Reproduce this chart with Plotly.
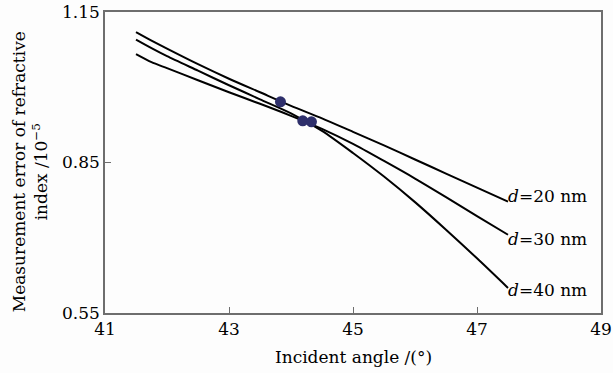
import plotly.graph_objects as go

# Incident angle (degrees)
angles = [41.5, 41.75, 42.0, 42.5, 43.0, 43.5, 44.0, 44.5, 45.0, 45.5, 46.0, 46.5, 47.0, 47.5]

# Measurement error of refractive index (x 1e-5)
err_d20 = [1.110, 1.093, 1.077, 1.046, 1.017, 0.990, 0.963, 0.938, 0.911, 0.884, 0.856, 0.828, 0.800, 0.772]
err_d30 = [1.066, 1.050, 1.038, 1.014, 0.990, 0.967, 0.943, 0.917, 0.887, 0.853, 0.818, 0.781, 0.743, 0.706]
err_d40 = [1.095, 1.078, 1.062, 1.033, 1.004, 0.976, 0.948, 0.913, 0.869, 0.822, 0.771, 0.716, 0.659, 0.600]

series_names = ["d=20 nm", "d=30 nm", "d=40 nm"]
series_labels = ["<i>d</i>=20 nm", "<i>d</i>=30 nm", "<i>d</i>=40 nm"]

# Marked points (optimal angles)
dot_x = [43.83, 44.19, 44.33]
dot_y = [0.971, 0.933, 0.931]

x_ticks = [41, 43, 45, 47, 49]
y_ticks = [0.55, 0.85, 1.15]

FONT = "DejaVu Serif"

fig = go.Figure()
for name, ys in zip(series_names, [err_d20, err_d30, err_d40]):
    fig.add_trace(go.Scatter(x=angles, y=ys, mode="lines", name=name,
                             line=dict(color="black", width=2, shape="spline", smoothing=0.7),
                             showlegend=False, hoverinfo="skip"))

fig.add_trace(go.Scatter(x=dot_x, y=dot_y, mode="markers",
                         marker=dict(color="#2e2f6b", size=11), showlegend=False,
                         hoverinfo="skip"))

yshifts = [6, -4, -2]
for lab, ys, dy in zip(series_labels, [err_d20, err_d30, err_d40], yshifts):
    fig.add_annotation(x=angles[-1], y=ys[-1], text=lab, showarrow=False,
                       xanchor="left", yanchor="middle", xshift=-2, yshift=dy,
                       font=dict(family=FONT, size=17, color="black"))

fig.add_annotation(xref="paper", yref="paper", x=-0.151, y=0.468,
                   text="Measurement error of refractive<br>index /10<sup>−5</sup>",
                   textangle=-90, showarrow=False, xanchor="center", yanchor="middle",
                   font=dict(family=FONT, size=17, color="black"))
fig.add_annotation(xref="paper", yref="paper", x=0.5, y=-0.145,
                   text="Incident angle /(°)", showarrow=False,
                   xanchor="center", yanchor="middle",
                   font=dict(family=FONT, size=17, color="black"))

axis_common = dict(showgrid=False, zeroline=False, showline=True, linecolor="#6e6e6e",
                   linewidth=1.5, mirror=True, ticks="inside", ticklen=6, tickwidth=1,
                   tickcolor="#6e6e6e", automargin=False,
                   tickfont=dict(family=FONT, size=17, color="black"))

fig.update_xaxes(range=[41, 49], tickvals=x_ticks, ticktext=[str(v) for v in x_ticks],
                 **axis_common)
fig.update_yaxes(range=[0.55, 1.15], tickvals=y_ticks, ticktext=[f"{v:.2f}" for v in y_ticks],
                 **axis_common)

fig.update_layout(width=613, height=373, margin=dict(l=105, r=12, t=12, b=60),
                  plot_bgcolor="#fdfdfd", paper_bgcolor="#fdfdfd",
                  font=dict(family=FONT, color="black"))

fig.write_html("out.html", config={"displayModeBar": False},
               post_script="document.body.style.margin='0';document.body.style.overflow='hidden';document.body.style.background='#fdfdfd';")
